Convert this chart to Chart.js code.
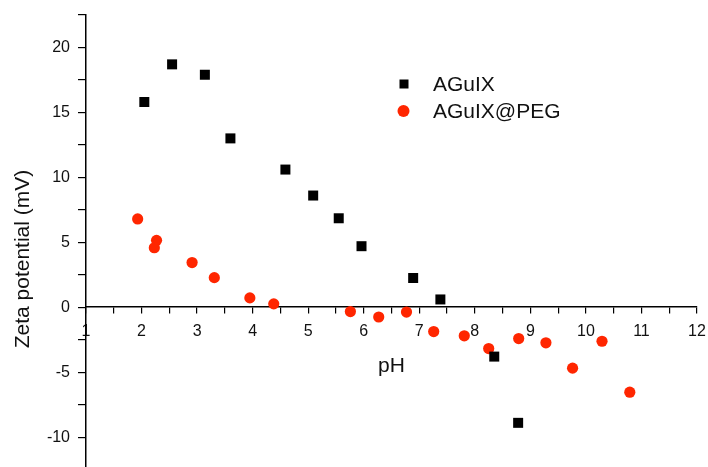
<!DOCTYPE html>
<html>
<head>
<meta charset="utf-8">
<script src="https://cdn.jsdelivr.net/npm/chart.js@4"></script>
<style>
    html, body { margin: 0; padding: 0; background: #fff; }
    canvas { display: block; }
</style>
</head>
<body>
<canvas id="zetaChart" width="708" height="467"></canvas>
<script>
// AGuIX (black squares)
const aguixPH   = [2.05, 2.55, 3.14, 3.60, 4.59, 5.09, 5.55, 5.96, 6.89, 7.38, 8.35, 8.78];
const aguixZeta = [15.8, 18.7, 17.9, 13.0, 10.6, 8.6, 6.85, 4.7, 2.25, 0.6, -3.8, -8.9];

// AGuIX@PEG (red circles)
const pegPH   = [1.93, 2.27, 2.23, 2.91, 3.31, 3.95, 4.38, 5.76, 6.27, 6.77, 7.26, 7.81, 8.25, 8.79, 9.28, 9.76, 10.29, 10.79];
const pegZeta = [6.8, 5.15, 4.58, 3.44, 2.28, 0.72, 0.26, -0.33, -0.75, -0.37, -1.87, -2.2, -3.18, -2.41, -2.74, -4.69, -2.62, -6.54];

const seriesNames = ["AGuIX", "AGuIX@PEG"];

// axis ticks
const xMajorTicks = [1, 2, 3, 4, 5, 6, 7, 8, 9, 10, 11, 12];
const xMinorTicks = [1.5, 2.5, 3.5, 4.5, 5.5, 6.5, 7.5, 8.5, 9.5, 10.5, 11.5];
const yMajorTicks = [-10, -5, 0, 5, 10, 15, 20];
const yMinorTicks = [-7.5, -2.5, 2.5, 7.5, 12.5, 17.5, 22.5];

const FONT = "'Liberation Sans', Arial, Helvetica, sans-serif";
const RED = "rgb(255, 38, 0)";

function toPoints(xs, ys) {
    return xs.map((x, i) => ({ x: x, y: ys[i] }));
}

function tickList(major, minor) {
    return major.concat(minor).sort((a, b) => a - b).map(v => ({ value: v }));
}

// legend drawn inside the plot, like the original figure
const insideLegend = {
    id: 'insideLegend',
    afterDraw(chart) {
        const ctx = chart.ctx;
        const ds = chart.data.datasets;
        ctx.save();
        ctx.font = "21px " + FONT;
        ctx.textBaseline = 'middle';
        ctx.textAlign = 'left';

        // square
        ctx.fillStyle = ds[0].backgroundColor;
        ctx.fillRect(399.5, 79.5, 9, 9);
        ctx.fillStyle = '#111';
        ctx.fillText(ds[0].label, 433, 85);

        // circle
        ctx.fillStyle = ds[1].backgroundColor;
        ctx.beginPath();
        ctx.arc(403.5, 111, 6, 0, Math.PI * 2);
        ctx.fill();
        ctx.fillStyle = '#111';
        ctx.fillText(ds[1].label, 433, 112.5);
        ctx.restore();
    }
};

// rotated y title, placed where the original has it
const yTitle = {
    id: 'yTitle',
    afterDraw(chart) {
        const ctx = chart.ctx;
        ctx.save();
        ctx.translate(23, 259);
        ctx.rotate(-Math.PI / 2);
        ctx.font = "21px " + FONT;
        ctx.fillStyle = '#111';
        ctx.textAlign = 'center';
        ctx.textBaseline = 'middle';
        ctx.fillText("Zeta potential (mV)", 0, 0);
        ctx.restore();
    }
};

const ctx = document.getElementById("zetaChart").getContext("2d");
const zetaChart = new Chart(ctx, {
    type: 'scatter',
    data: {
        datasets: [{
            label: seriesNames[0],
            data: toPoints(aguixPH, aguixZeta),
            pointStyle: 'rect',
            pointRadius: 7.07,
            pointHoverRadius: 7.07,
            backgroundColor: '#000',
            borderColor: '#000',
            borderWidth: 0
        }, {
            label: seriesNames[1],
            data: toPoints(pegPH, pegZeta),
            pointStyle: 'circle',
            pointRadius: 5.6,
            pointHoverRadius: 5.6,
            backgroundColor: RED,
            borderColor: RED,
            borderWidth: 0
        }]
    },
    options: {
        responsive: false,
        animation: false,
        events: [],
        layout: {
            autoPadding: false,
            padding: { top: 15, right: 11, bottom: 0, left: 0 }
        },
        plugins: {
            legend: { display: false },
            tooltip: { enabled: false }
        },
        scales: {
            x: {
                type: 'linear',
                position: { y: 0 },
                min: 1,
                max: 12,
                afterBuildTicks: scale => { scale.ticks = tickList(xMajorTicks, xMinorTicks); },
                afterFit: scale => {
                    scale.paddingLeft = 0;
                    scale.paddingRight = 0;
                },
                border: { display: true, color: '#000', width: 1.5 },
                grid: {
                    drawOnChartArea: false,
                    drawTicks: true,
                    tickLength: 6,
                    color: '#000',
                    lineWidth: 1.2
                },
                ticks: {
                    autoSkip: false,
                    maxRotation: 0,
                    padding: 9,
                    color: '#111',
                    font: { family: FONT, size: 16 },
                    callback: v => xMajorTicks.includes(v) ? String(v) : ''
                },
                title: {
                    display: true,
                    text: 'pH',
                    color: '#111',
                    font: { family: FONT, size: 21 },
                    padding: { top: 3, bottom: 0 }
                }
            },
            y: {
                type: 'linear',
                position: 'left',
                min: -12.3,
                max: 22.5,
                afterBuildTicks: scale => { scale.ticks = tickList(yMajorTicks, yMinorTicks); },
                afterFit: scale => {
                    scale.width = 86;
                    scale.paddingTop = 0;
                    scale.paddingBottom = 0;
                },
                border: { display: true, color: '#000', width: 1.5 },
                grid: {
                    drawOnChartArea: false,
                    drawTicks: true,
                    tickLength: 8,
                    color: '#000',
                    lineWidth: 1.2
                },
                ticks: {
                    autoSkip: false,
                    padding: 8,
                    color: '#111',
                    font: { family: FONT, size: 16 },
                    callback: v => yMajorTicks.includes(v) ? String(v) : ''
                }
            }
        }
    },
    plugins: [insideLegend, yTitle]
});
</script>
</body>
</html>
